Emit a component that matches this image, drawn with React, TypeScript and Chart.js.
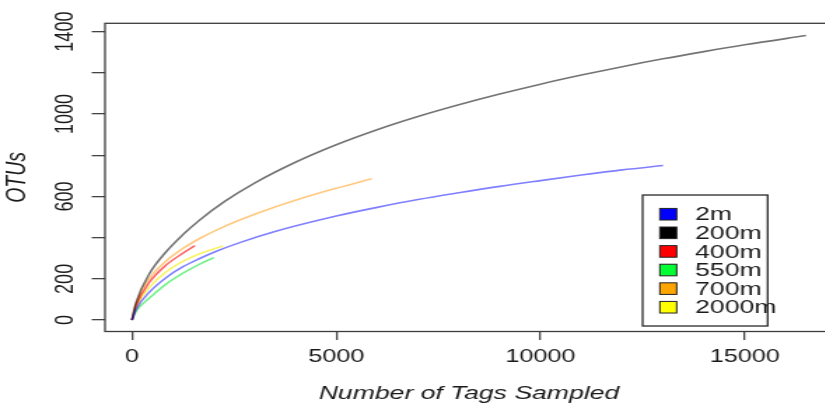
import React, { useEffect, useRef } from "react";
import { Chart, registerables } from "chart.js";

Chart.register(...registerables);

const FONT = "'Liberation Sans', Arial, Helvetica, sans-serif";
// the reference picture is horizontally stretched; we draw on a narrower canvas and stretch it with CSS
const STRETCH = 1.4;
const CANVAS_W = 620;
const CANVAS_H = 408;

const seriesLabels = ["2m", "200m", "400m", "550m", "700m", "2000m"];
const legendColors = ["#0000FF", "#000000", "#FF0000", "#00FF33", "#FFA500", "#FFFF00"];
const lineColors = [
  "rgba(0,0,255,0.5)",
  "rgba(0,0,0,0.55)",
  "rgba(255,0,0,0.6)",
  "rgba(0,230,40,0.55)",
  "rgba(255,150,0,0.5)",
  "rgba(245,235,0,0.6)",
];

const tags2m = [0, 100, 433, 842, 1249, 1658, 2066, 2637, 3500, 5000, 6000, 7000, 8000, 9000, 10000, 11000, 12000, 13000];
const otus2m = [0, 52, 137, 207, 259, 299, 334, 376, 430, 505, 547, 585, 618, 649, 677, 704, 729, 750];

const tags200m = [0, 100, 433, 842, 1249, 1658, 2270, 3000, 4000, 5000, 6000, 7000, 8000, 9000, 10000, 11000, 12000, 13000, 14000, 15000, 16500];
const otus200m = [0, 85, 227, 333, 415, 486, 576, 665, 766, 851, 924, 988, 1045, 1097, 1145, 1189, 1230, 1268, 1303, 1336, 1381];

const tags400m = [0, 100, 433, 842, 1249, 1540];
const otus400m = [0, 70, 185, 268, 325, 361];

const tags550m = [0, 100, 433, 842, 1249, 1658, 2005];
const otus550m = [0, 42, 108, 176, 228, 272, 303];

const tags700m = [0, 100, 433, 842, 1249, 1658, 2066, 2637, 3500, 4500, 5000, 5868];
const otus700m = [0, 78, 204, 288, 348, 396, 437, 486, 549, 612, 640, 686];

const tags2000m = [0, 100, 433, 842, 1249, 1658, 2228];
const otus2000m = [0, 64, 160, 235, 285, 322, 360];

const seriesTags = [tags2m, tags200m, tags400m, tags550m, tags700m, tags2000m];
const seriesOtus = [otus2m, otus200m, otus400m, otus550m, otus700m, otus2000m];

const xTickValues = [0, 5000, 10000, 15000];
const yTickValues = [0, 200, 400, 600, 800, 1000, 1200, 1400];
const yTickLabels = ["0", "200", "", "600", "", "1000", "", "1400"];

const xLimits = [-660, 17160];
const yLimits = [-55.4, 1440.4];

const xTitle = "Number of Tags Sampled";
const yTitle = "OTUs";

// legend top-left corner in data units
const legendAnchor = { x: 12500, y: 607 };

const boxLegendPlugin = {
  id: "boxLegend",
  afterDatasetsDraw(chart: any) {
    const { ctx, chartArea: a } = chart;
    ctx.save();
    ctx.strokeStyle = "#3c3c3c";
    ctx.lineWidth = 1.3;
    ctx.strokeRect(a.left, a.top, a.right - a.left, a.bottom - a.top);

    const lx = chart.scales.x.getPixelForValue(legendAnchor.x);
    const ly = chart.scales.y.getPixelForValue(legendAnchor.y);
    const boxW = 89.3;
    const boxH = 131;
    ctx.strokeStyle = "#2a2a2a";
    ctx.lineWidth = 1.3;
    ctx.strokeRect(lx, ly, boxW, boxH);

    const rowStep = 18.6;
    const firstRow = 19.2;
    ctx.font = `19px ${FONT}`;
    ctx.textBaseline = "middle";
    ctx.textAlign = "left";
    chart.data.datasets.forEach((ds: any, i: number) => {
      const cy = ly + firstRow + i * rowStep;
      ctx.fillStyle = legendColors[i];
      ctx.fillRect(lx + 12.3, cy - 5.8, 12, 11.6);
      ctx.strokeStyle = "#222";
      ctx.lineWidth = 1;
      ctx.strokeRect(lx + 12.3, cy - 5.8, 12, 11.6);
      ctx.fillStyle = "#1a1a1a";
      ctx.fillText(ds.label, lx + 37.5, cy + 1);
    });
    ctx.restore();
  },
};

export default function App() {
  const canvasRef = useRef<HTMLCanvasElement | null>(null);

  useEffect(() => {
    if (!canvasRef.current) return;
    const chart = new Chart(canvasRef.current, {
      type: "line",
      data: {
        datasets: seriesLabels.map((label, i) => ({
          label,
          data: seriesTags[i].map((t, j) => ({ x: t, y: seriesOtus[i][j] })),
          borderColor: lineColors[i],
          backgroundColor: lineColors[i],
          borderWidth: 1.6,
          pointRadius: 0,
          fill: false,
          cubicInterpolationMode: "monotone",
        })),
      },
      options: {
        responsive: false,
        animation: false,
        devicePixelRatio: 1,
        layout: { padding: { left: 0, top: 23.3, right: 25, bottom: 0 } },
        plugins: { legend: { display: false }, tooltip: { enabled: false } },
        scales: {
          x: {
            type: "linear",
            min: xLimits[0],
            max: xLimits[1],
            afterBuildTicks: (s: any) => {
              s.ticks = xTickValues.map((v) => ({ value: v }));
            },
            afterFit: (s: any) => {
              s.height = 76.5;
            },
            border: { display: false },
            grid: { drawOnChartArea: false, drawTicks: true, tickLength: 8.5, color: "#444", lineWidth: 1.3 },
            ticks: {
              autoSkip: false,
              maxRotation: 0,
              minRotation: 0,
              padding: 6.5,
              color: "#1a1a1a",
              font: { family: FONT, size: 18 },
              callback: (v: any) => String(v),
            },
            title: {
              display: true,
              text: xTitle,
              color: "#1a1a1a",
              font: { family: FONT, size: 19, style: "italic" },
              padding: { top: 0, bottom: 3.2 },
            },
          },
          y: {
            type: "linear",
            min: yLimits[0],
            max: yLimits[1],
            afterBuildTicks: (s: any) => {
              s.ticks = yTickValues.map((v) => ({ value: v }));
            },
            afterFit: (s: any) => {
              s.width = 75;
            },
            border: { display: false },
            grid: { drawOnChartArea: false, drawTicks: true, tickLength: 9.5, color: "#444", lineWidth: 1.3 },
            ticks: {
              autoSkip: false,
              minRotation: 90,
              maxRotation: 90,
              crossAlign: "center",
              padding: -1.5,
              color: "#1a1a1a",
              font: { family: FONT, size: 18 },
              callback: (v: any) => {
                const i = yTickValues.indexOf(Number(v));
                return i >= 0 ? yTickLabels[i] : "";
              },
            },
            title: {
              display: true,
              text: yTitle,
              color: "#1a1a1a",
              font: { family: FONT, size: 19.5, style: "italic" },
              padding: { top: 1.1, bottom: 0 },
            },
          },
        },
      } as any,
      plugins: [boxLegendPlugin],
    });
    return () => chart.destroy();
  }, []);

  return (
    <div
      style={{
        position: "fixed",
        left: 0,
        top: 0,
        width: 825,
        height: 408,
        overflow: "hidden",
        background: "#fff",
      }}
    >
      <canvas
        ref={canvasRef}
        width={CANVAS_W}
        height={CANVAS_H}
        style={{ width: `${CANVAS_W * STRETCH}px`, height: `${CANVAS_H}px`, display: "block" }}
      />
    </div>
  );
}
